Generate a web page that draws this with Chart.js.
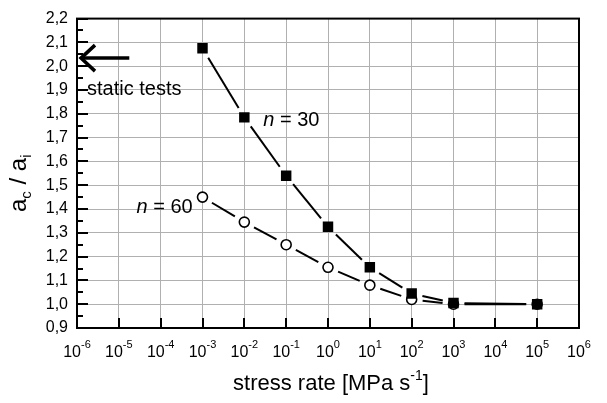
<!DOCTYPE html>
<html>
<head>
<meta charset="utf-8">
<script src="https://cdn.jsdelivr.net/npm/chart.js@4.4.0/dist/chart.umd.min.js"></script>
<style>
html,body{margin:0;padding:0;background:#fff;}
#wrap{width:607px;height:403px;}
</style>
</head>
<body>
<div id="wrap"><canvas id="c" width="607" height="403"></canvas></div>
<script>
// ---- data ----
const stressRates = [1e-3, 1e-2, 1e-1, 1e0, 1e1, 1e2, 1e3, 1e5];
const n30Values = [2.075, 1.785, 1.54, 1.325, 1.155, 1.045, 1.005, 1.0];
const n60Values = [1.45, 1.345, 1.25, 1.155, 1.08, 1.02, 1.0, 1.0];
const xTickExponents = [-6, -5, -4, -3, -2, -1, 0, 1, 2, 3, 4, 5, 6];
const yMin = 0.9, yMax = 2.2, yStep = 0.1;
const seriesLabels = ['n = 30', 'n = 60'];
const staticTestsValue = 2.034;

const FONT = 'Liberation Sans, Arial, sans-serif';

const decorPlugin = {
  id: 'decor',
  beforeDatasetsDraw(chart) {
    const ctx = chart.ctx;
    ctx.save();
    ctx.strokeStyle = '#000';
    ctx.lineWidth = 2;
    const gap = 11;
    chart.data.datasets.forEach((ds, di) => {
      const pts = chart.getDatasetMeta(di).data;
      for (let i = 0; i < pts.length - 1; i++) {
        const a = pts[i], b = pts[i + 1];
        const dx = b.x - a.x, dy = b.y - a.y;
        const d = Math.hypot(dx, dy);
        if (d <= 2 * gap) continue;
        const ux = dx / d, uy = dy / d;
        ctx.beginPath();
        ctx.moveTo(a.x + ux * gap, a.y + uy * gap);
        ctx.lineTo(b.x - ux * gap, b.y - uy * gap);
        ctx.stroke();
      }
    });
    ctx.restore();
  },
  afterDraw(chart) {
    const ctx = chart.ctx;
    const xs = chart.scales.x, ys = chart.scales.y;
    const ca = chart.chartArea;
    ctx.save();
    // inward ticks
    ctx.strokeStyle = '#000';
    ctx.lineWidth = 2;
    for (let v = yMin; v <= yMax + 1e-9; v += yStep / 2) {
      const y = Math.round(ys.getPixelForValue(v));
      const major = Math.abs(Math.round(v * 10) - v * 10) < 1e-6;
      ctx.beginPath();
      ctx.moveTo(ca.left, y);
      ctx.lineTo(ca.left + (major ? 11 : 6), y);
      ctx.stroke();
    }
    xTickExponents.forEach(e => {
      const x = Math.round(xs.getPixelForValue(Math.pow(10, e)));
      ctx.beginPath();
      ctx.moveTo(x, ca.bottom);
      ctx.lineTo(x, ca.bottom - 10);
      ctx.stroke();
    });
    // frame
    ctx.strokeRect(ca.left, ca.top, ca.right - ca.left, ca.bottom - ca.top);

    // x tick labels with superscripts
    ctx.fillStyle = '#000';
    ctx.textBaseline = 'alphabetic';
    xTickExponents.forEach(e => {
      const x = xs.getPixelForValue(Math.pow(10, e));
      ctx.font = '16px ' + FONT;
      const wb = ctx.measureText('10').width;
      ctx.font = '11px ' + FONT;
      const es = (e < 0 ? '-' : '') + Math.abs(e);
      const we = ctx.measureText(es).width;
      const left = x - (wb + we) / 2;
      ctx.font = '16px ' + FONT;
      ctx.textAlign = 'left';
      ctx.fillText('10', left, ca.bottom + 29);
      ctx.font = '11px ' + FONT;
      ctx.fillText(es, left + wb, ca.bottom + 20);
    });

    // x axis title
    ctx.font = '22px ' + FONT;
    const t1 = 'stress rate [MPa s';
    const w1 = ctx.measureText(t1).width;
    ctx.font = '14px ' + FONT;
    const w2 = ctx.measureText('-1').width;
    ctx.font = '22px ' + FONT;
    const w3 = ctx.measureText(']').width;
    const total = w1 + w2 + w3;
    const cx = (ca.left + ca.right) / 2 + 3;
    let tx = cx - total / 2;
    const by = ca.bottom + 62;
    ctx.fillText(t1, tx, by);
    ctx.font = '14px ' + FONT;
    ctx.fillText('-1', tx + w1, by - 10);
    ctx.font = '22px ' + FONT;
    ctx.fillText(']', tx + w1 + w2, by);

    // y axis title (rotated)
    ctx.save();
    ctx.translate(26, (ca.top + ca.bottom) / 2 + 10);
    ctx.rotate(-Math.PI / 2);
    const parts = [
      {t: 'a', f: '24px ' + FONT, dy: 0},
      {t: 'c', f: '15px ' + FONT, dy: 5},
      {t: ' / ', f: '24px ' + FONT, dy: 0},
      {t: 'a', f: '24px ' + FONT, dy: 0},
      {t: 'i', f: '15px ' + FONT, dy: 5}
    ];
    let tw = 0;
    parts.forEach(p => { ctx.font = p.f; p.w = ctx.measureText(p.t).width; tw += p.w; });
    let px = -tw / 2;
    parts.forEach(p => { ctx.font = p.f; ctx.fillText(p.t, px, p.dy); px += p.w; });
    ctx.restore();

    // static tests arrow
    const ay = ys.getPixelForValue(staticTestsValue);
    const ax0 = ca.left + 4;
    const ax1 = xs.getPixelForValue(Math.pow(10, -4.75));
    ctx.lineWidth = 3.5;
    ctx.lineCap = 'butt';
    ctx.beginPath();
    ctx.moveTo(ax0 + 2, ay);
    ctx.lineTo(ax1, ay);
    ctx.stroke();
    ctx.beginPath();
    ctx.moveTo(ax0 + 14, ay - 13);
    ctx.lineTo(ax0, ay);
    ctx.lineTo(ax0 + 14, ay + 13);
    ctx.stroke();
    ctx.font = '20px ' + FONT;
    ctx.fillText('static tests', ca.left + 10, ay + 37);

    // series labels
    const drawN = (label, x, y) => {
      const rest = label.slice(1);
      ctx.font = 'italic 20px ' + FONT;
      ctx.fillText(label[0], x, y);
      const wn = ctx.measureText(label[0]).width;
      ctx.font = '20px ' + FONT;
      ctx.fillText(rest, x + wn, y);
    };
    const p30 = chart.getDatasetMeta(0).data[1];
    drawN(seriesLabels[0], p30.x + 19, p30.y + 9);
    const p60 = chart.getDatasetMeta(1).data[0];
    drawN(seriesLabels[1], p60.x - 66, p60.y + 16);

    ctx.restore();
  }
};

new Chart(document.getElementById('c'), {
  type: 'scatter',
  data: {
    datasets: [
      {
        label: seriesLabels[0],
        data: stressRates.map((x, i) => ({x, y: n30Values[i]})),
        showLine: false,
        pointStyle: 'rect',
        pointRadius: 7.4,
        pointBackgroundColor: '#000',
        pointBorderColor: '#000',
        pointBorderWidth: 0
      },
      {
        label: seriesLabels[1],
        data: stressRates.map((x, i) => ({x, y: n60Values[i]})),
        showLine: false,
        pointStyle: 'circle',
        pointRadius: 5,
        pointBackgroundColor: '#fff',
        pointBorderColor: '#000',
        pointBorderWidth: 1.6
      }
    ]
  },
  options: {
    responsive: false,
    animation: false,
    devicePixelRatio: 1,
    layout: {padding: {left: 0, top: 13, right: 28, bottom: 0}},
    plugins: {legend: {display: false}, tooltip: {enabled: false}},
    scales: {
      x: {
        type: 'logarithmic',
        min: 1e-6,
        max: 1e6,
        afterBuildTicks: s => { s.ticks = xTickExponents.map(e => ({value: Math.pow(10, e)})); },
        afterFit: s => { s.height = 75; },
        ticks: {display: false},
        grid: {color: '#b0b0b0', lineWidth: 1, drawTicks: false},
        border: {display: false}
      },
      y: {
        min: yMin,
        max: yMax,
        afterFit: s => { s.width = 77; },
        ticks: {
          stepSize: yStep,
          padding: 9,
          color: '#000',
          font: {family: FONT, size: 16},
          callback: v => v.toFixed(1).replace('.', ',')
        },
        grid: {color: '#b0b0b0', lineWidth: 1, drawTicks: false},
        border: {display: false}
      }
    }
  },
  plugins: [decorPlugin]
});
</script>
</body>
</html>
